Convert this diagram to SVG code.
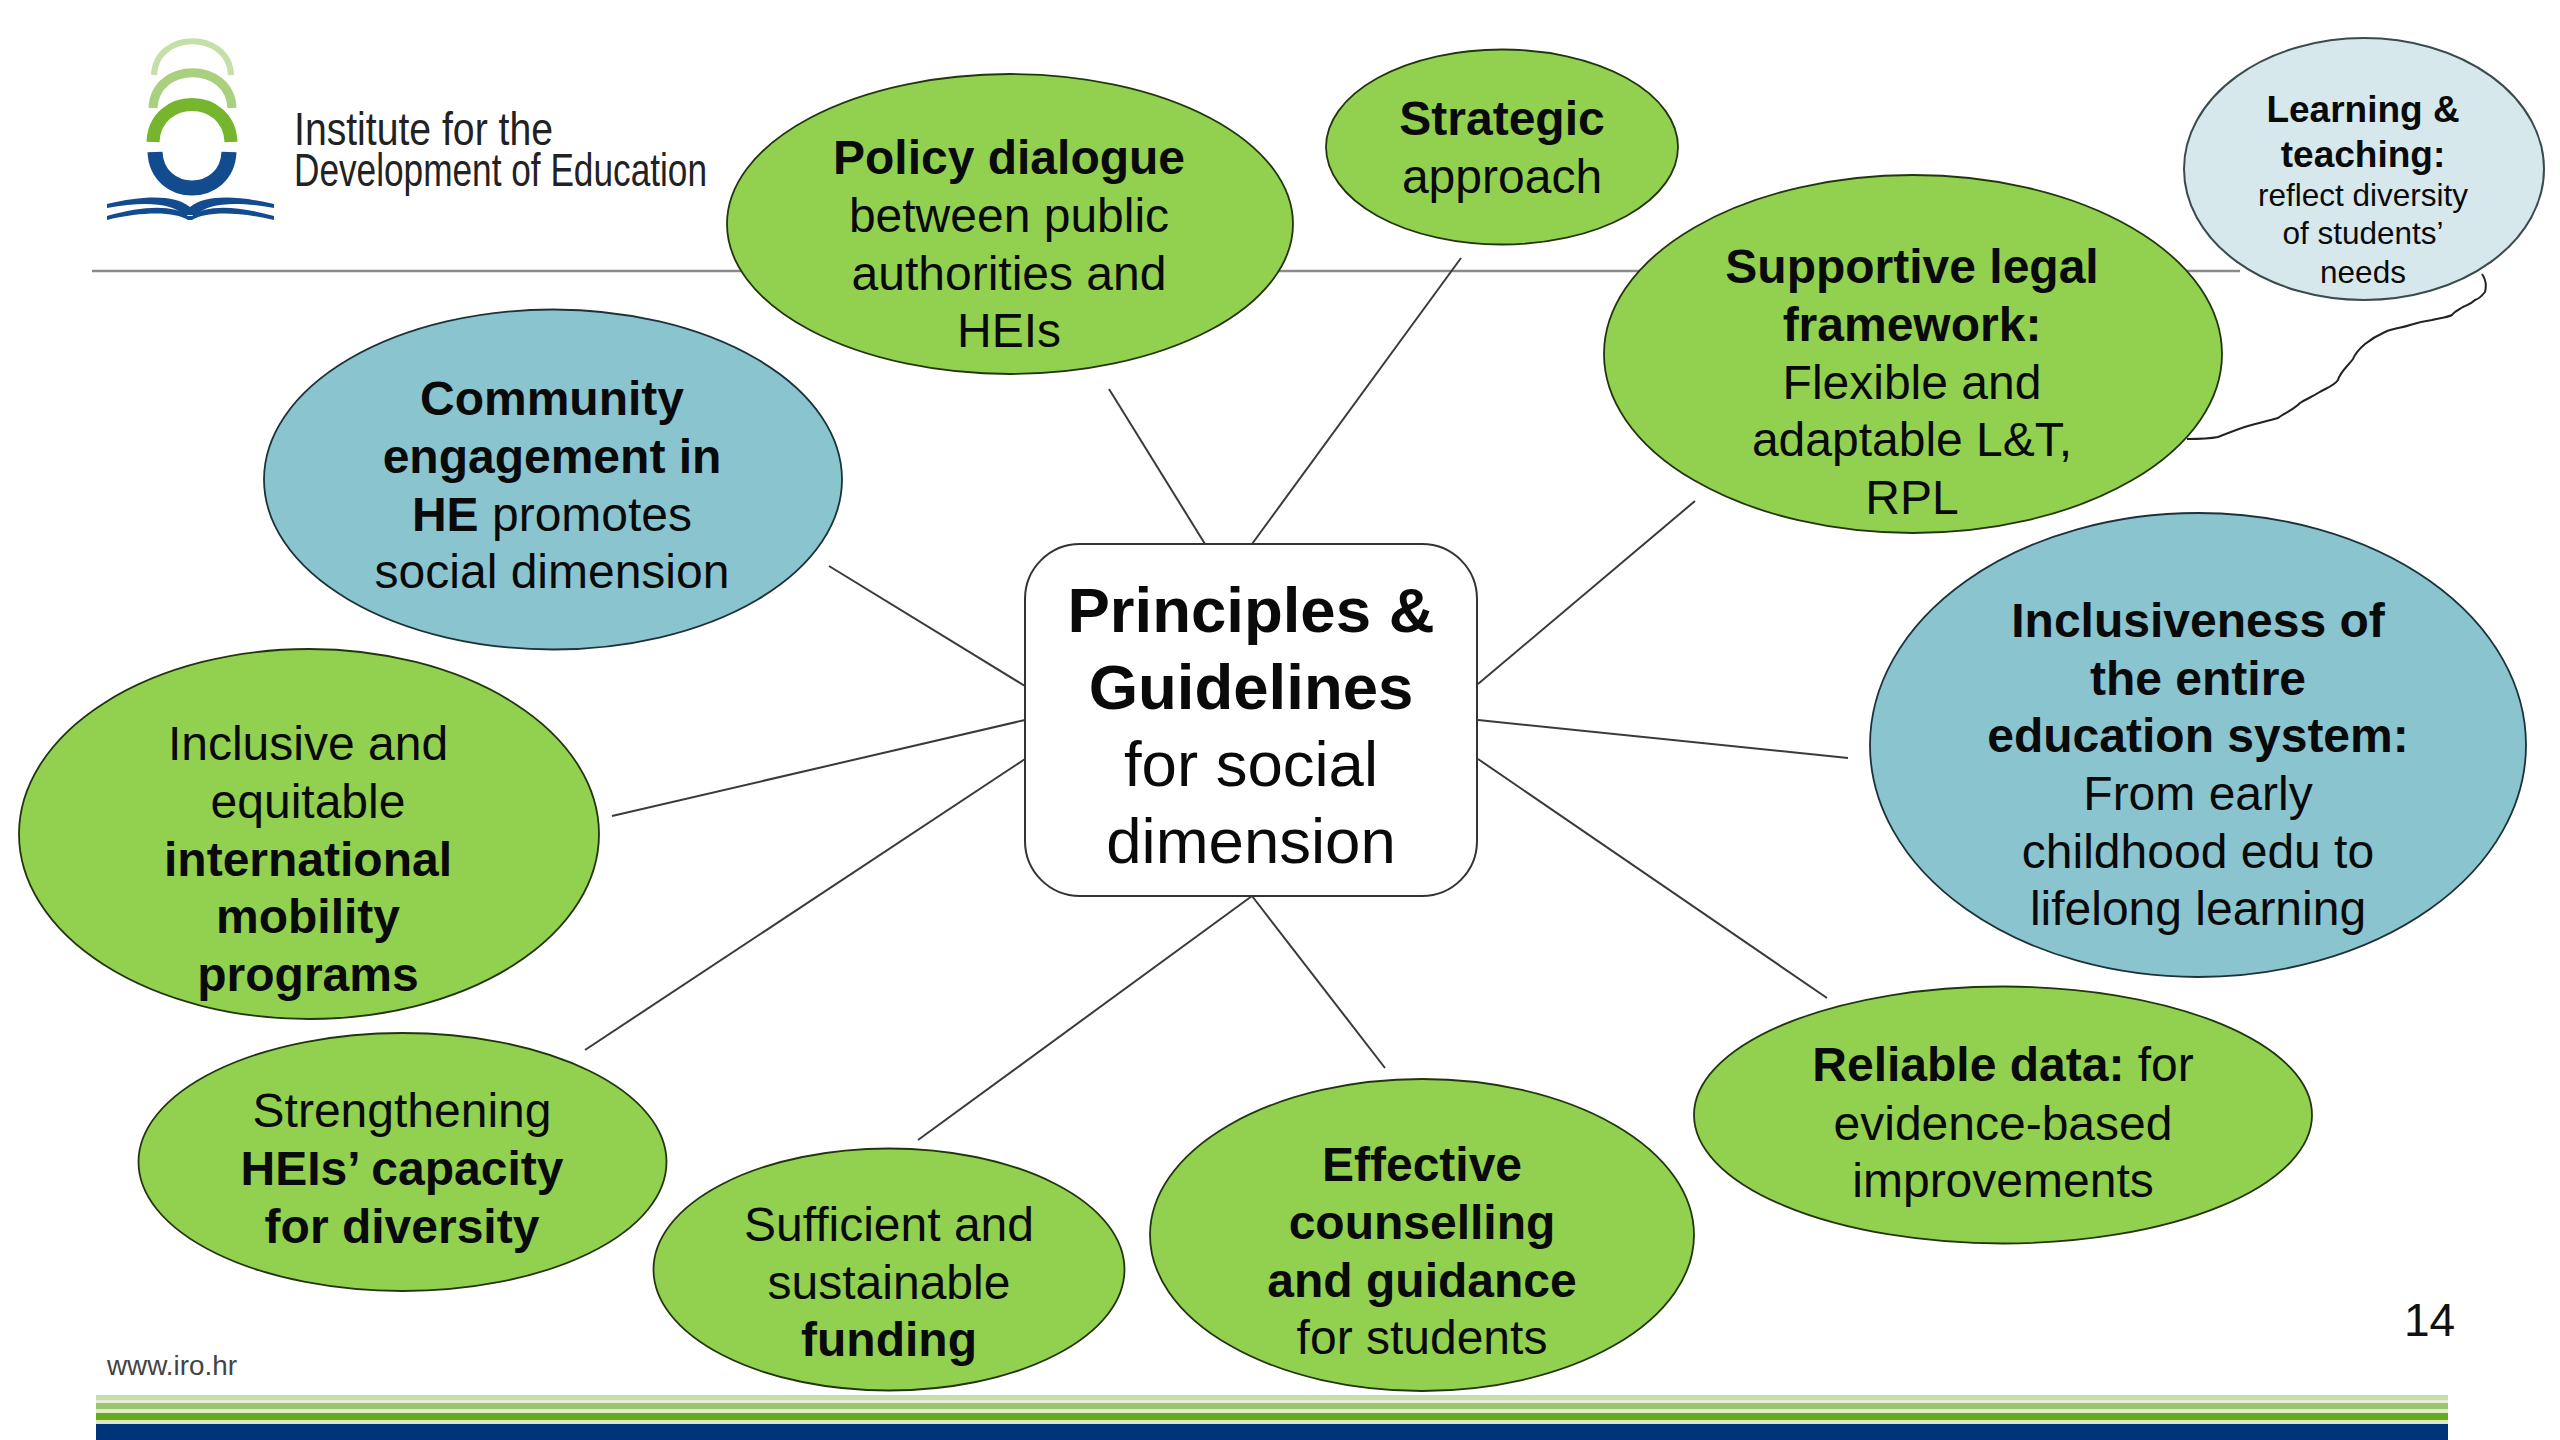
<svg xmlns="http://www.w3.org/2000/svg" width="2560" height="1440" viewBox="0 0 2560 1440">
<style>
text{font-family:"Liberation Sans",Arial,sans-serif;fill:#0a0a0a}
.n text{font-size:48px;text-anchor:middle}
.b{font-weight:bold}
.g{fill:#92d050;stroke:#23350f;stroke-width:1.8}
.t{fill:#8ac4cf;stroke:#1c3238;stroke-width:1.8}
.l{stroke:#3a3a3a;stroke-width:2;fill:none}
.logo{font-family:"Liberation Sans Narrow","Liberation Sans",sans-serif;font-size:46px;fill:#222}
</style>
<rect width="2560" height="1440" fill="#fff"/>
<g id="header">
<path d="M92 271H2240" stroke="#8a8a8a" stroke-width="2.5"/>
<g id="logo" fill="none" stroke-linecap="butt">
<path d="M154 75C156 30 229 30 231 75" stroke="#c5dfa6" stroke-width="6"/>
<path d="M153 108C155 61 230 61 232 108" stroke="#a9d07c" stroke-width="9"/>
<path d="M153 142C155 92 229 92 231 142" stroke="#76b52e" stroke-width="13"/>
<path d="M155 152C157 200 227 200 229 152" stroke="#134b8f" stroke-width="15"/>
<path d="M107 204C145 195 175 195 190 207C205 195 235 195 274 204V208C235 201 208 203 196 215H184C172 203 145 201 107 208Z" fill="#134b8f"/>
<path d="M107 216C145 205 175 205 188 216H192C205 205 235 205 274 216V220C235 211 205 212 192 220H188C175 212 145 211 107 220Z" fill="#134b8f"/>
</g>
<text class="logo" x="294" y="145" textLength="259" lengthAdjust="spacingAndGlyphs">Institute for the</text>
<text class="logo" x="294" y="186" textLength="413" lengthAdjust="spacingAndGlyphs">Development of Education</text>
</g>
<g id="connectors" class="l">
<path d="M1109 389L1205 544"/>
<path d="M1461 258L1252 544"/>
<path d="M1695 501L1478 684"/>
<path d="M1478 720L1848 758"/>
<path d="M1478 759L1827 998"/>
<path d="M1252 896L1385 1068"/>
<path d="M1252 896L918 1140"/>
<path d="M1025 759L585 1050"/>
<path d="M1025 720L612 816"/>
<path d="M1025 686L829 566"/>
<path d="M2482 274C2487 281 2486 288 2485 292C2481 297 2479 299 2475 300C2471 304 2467 305 2463 307C2458 310 2454 312 2452 315C2446 318 2438 318 2432 320C2425 321 2416 323 2410 325C2402 328 2394 328 2385 332C2376 336 2370 340 2365 344C2358 350 2355 354 2353 359C2348 366 2340 372 2338 380C2334 386 2326 388 2318 393C2312 397 2306 399 2300 403C2292 411 2284 413 2278 418C2268 421 2258 423 2248 426C2238 429 2228 433 2218 437C2208 439 2196 439 2187 439" stroke="#222"/>
</g>
<g id="policy" class="n"><ellipse class="g" cx="1010" cy="224" rx="283" ry="150"/><text y="174"><tspan class="b" x="1009">Policy dialogue</tspan><tspan x="1009" y="232">between public</tspan><tspan x="1009" y="290">authorities and</tspan><tspan x="1009" y="347">HEIs</tspan></text></g>
<g id="strategic" class="n"><ellipse class="g" cx="1502" cy="147" rx="176" ry="97.500"/><text y="135"><tspan class="b" x="1502">Strategic</tspan><tspan x="1502" y="193">approach</tspan></text></g>
<g id="legal" class="n"><ellipse class="g" cx="1913" cy="354" rx="309" ry="179"/><text y="283"><tspan class="b" x="1912">Supportive legal</tspan><tspan class="b" x="1912" y="341">framework:</tspan><tspan x="1912" y="399">Flexible and</tspan><tspan x="1912" y="456">adaptable L&amp;T,</tspan><tspan x="1912" y="514">RPL</tspan></text></g>
<g id="learning" class="n"><ellipse cx="2364" cy="169" rx="180" ry="131" fill="#d6e8ec" stroke="#3a4a4d" stroke-width="2"/><text y="122" style="font-size:37px"><tspan class="b" x="2363">Learning &amp;</tspan><tspan class="b" x="2363" y="167">teaching:</tspan><tspan x="2363" y="206" style="font-size:31.5px">reflect diversity</tspan><tspan x="2363" y="244" style="font-size:31.5px">of students’</tspan><tspan x="2363" y="283" style="font-size:31.5px">needs</tspan></text></g>
<g id="community" class="n"><ellipse class="t" cx="553" cy="479.500" rx="289" ry="170"/><text y="415"><tspan class="b" x="552">Community</tspan><tspan class="b" x="552" y="473">engagement in</tspan><tspan x="552" y="531"><tspan class="b">HE</tspan> promotes</tspan><tspan x="552" y="588">social dimension</tspan></text></g>
<g id="inclusiveness" class="n"><ellipse class="t" cx="2198" cy="745" rx="328" ry="232"/><text y="637"><tspan class="b" x="2198">Inclusiveness of</tspan><tspan class="b" x="2198" y="695">the entire</tspan><tspan class="b" x="2198" y="752">education system:</tspan><tspan x="2198" y="810">From early</tspan><tspan x="2198" y="868">childhood edu to</tspan><tspan x="2198" y="925">lifelong learning</tspan></text></g>
<g id="mobility" class="n"><ellipse class="g" cx="309" cy="834" rx="290" ry="185"/><text y="760"><tspan x="308">Inclusive and</tspan><tspan x="308" y="818">equitable</tspan><tspan class="b" x="308" y="876">international</tspan><tspan class="b" x="308" y="933">mobility</tspan><tspan class="b" x="308" y="991">programs</tspan></text></g>
<g id="capacity" class="n"><ellipse class="g" cx="402.500" cy="1162" rx="264" ry="129"/><text y="1127"><tspan x="402">Strengthening</tspan><tspan class="b" x="402" y="1185">HEIs’ capacity</tspan><tspan class="b" x="402" y="1243">for diversity</tspan></text></g>
<g id="funding" class="n"><ellipse class="g" cx="889" cy="1269.500" rx="235.500" ry="121"/><text y="1241"><tspan x="889">Sufficient and</tspan><tspan x="889" y="1299">sustainable</tspan><tspan class="b" x="889" y="1356">funding</tspan></text></g>
<g id="counselling" class="n"><ellipse class="g" cx="1422" cy="1235" rx="272" ry="156"/><text y="1181"><tspan class="b" x="1422">Effective</tspan><tspan class="b" x="1422" y="1239">counselling</tspan><tspan class="b" x="1422" y="1297">and guidance</tspan><tspan x="1422" y="1354">for students</tspan></text></g>
<g id="data" class="n"><ellipse class="g" cx="2003" cy="1115" rx="309" ry="128.500"/><text y="1081"><tspan x="2003"><tspan class="b">Reliable data:</tspan> for</tspan><tspan x="2003" y="1140">evidence-based</tspan><tspan x="2003" y="1197">improvements</tspan></text></g>
<g id="center" class="n"><rect x="1025" y="544" width="452" height="352" rx="55" fill="#fff" stroke="#333" stroke-width="2"/><text y="632" style="font-size:63.500px"><tspan class="b" x="1251">Principles &amp;</tspan><tspan class="b" x="1251" y="709">Guidelines</tspan><tspan x="1251" y="786">for social</tspan><tspan x="1251" y="863">dimension</tspan></text></g>
<g id="footer">
<text x="107" y="1375" font-size="27" textLength="130" lengthAdjust="spacingAndGlyphs" style="fill:#444">www.iro.hr</text>
<text x="2404" y="1336" font-size="46" style="fill:#111">14</text>
<rect x="96" y="1395" width="2352" height="5" fill="#c9dcab"/>
<rect x="96" y="1400" width="2352" height="3" fill="#e6efd9"/>
<rect x="96" y="1403" width="2352" height="6" fill="#9cc46e"/>
<rect x="96" y="1409" width="2352" height="4" fill="#e0ebc8"/>
<rect x="96" y="1413" width="2352" height="7" fill="#66aa1e"/>
<rect x="96" y="1420" width="2352" height="4" fill="#dbe8c4"/>
<rect x="96" y="1424" width="2352" height="16" fill="#003478"/>
</g>
</svg>
